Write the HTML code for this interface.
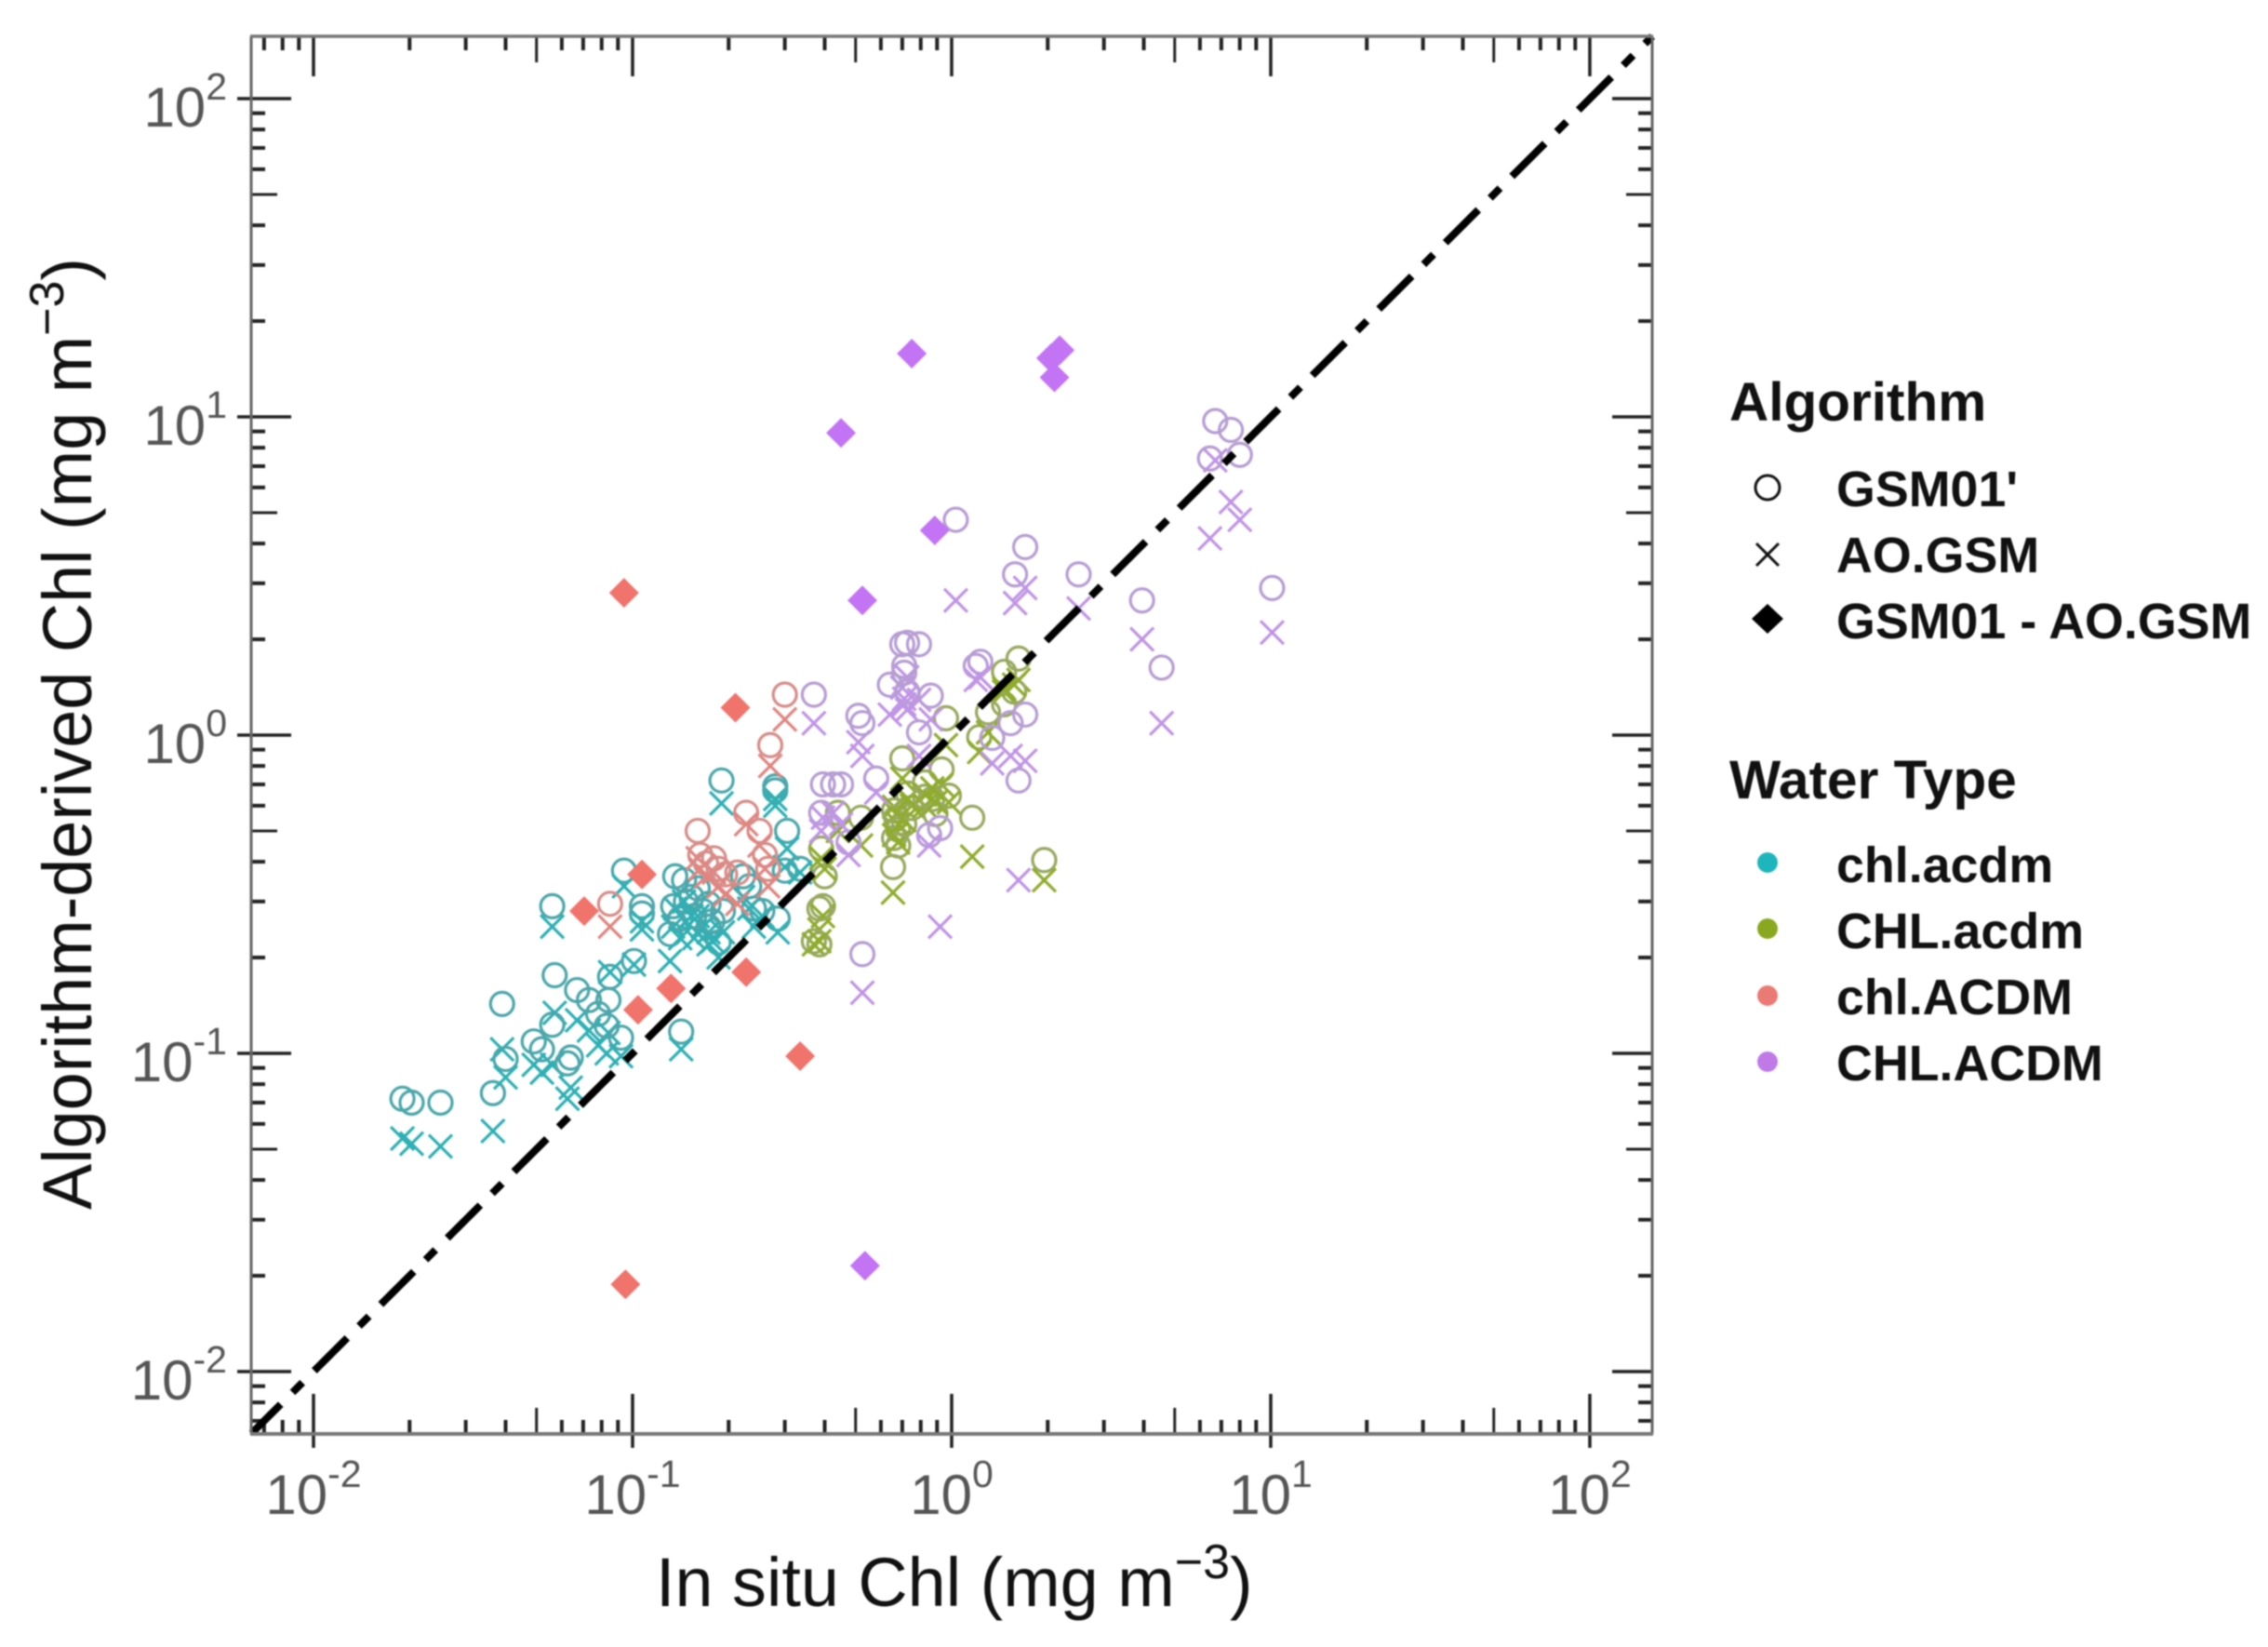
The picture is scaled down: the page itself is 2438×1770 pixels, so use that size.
<!DOCTYPE html>
<html lang="en">
<head>
<meta charset="utf-8">
<title>Algorithm-derived Chl vs In situ Chl</title>
<style>
html,body{margin:0;padding:0;background:#fff;}
body{width:2438px;height:1770px;overflow:hidden;}
svg{display:block;filter:blur(0.9px);font-family:"Liberation Sans",sans-serif;}
.tick-label{font-size:60px;fill:#555;}
.tick-exp{font-size:41px;fill:#555;}
.axis-title{font-size:73.8px;fill:#111;}
.axis-sup{font-size:52px;fill:#111;}
.legend-title{font-size:58.5px;font-weight:bold;fill:#111;}
.legend-text{font-size:53.8px;font-weight:bold;fill:#111;}
</style>
</head>
<body>
<svg id="chart" xmlns="http://www.w3.org/2000/svg" width="2438" height="1770" viewBox="0 0 2438 1770">
  <rect x="0" y="0" width="2438" height="1770" fill="#fff"/>
  <g id="ticks"></g>
  <g id="marks"></g>
  <g id="diamonds"></g>
  <line id="oneToOne" stroke="#000" stroke-width="8" stroke-dasharray="50 18 15 18" stroke-dashoffset="5.9" fill="none"/>
  <g>
    <line x1="270" y1="39" x2="270" y2="1541" stroke="#666" stroke-width="3"/>
    <line x1="1776" y1="39" x2="1776" y2="1541" stroke="#666" stroke-width="3"/>
    <line x1="269" y1="39" x2="1777" y2="39" stroke="#777" stroke-width="3.5"/>
    <line x1="269" y1="1541" x2="1777" y2="1541" stroke="#777" stroke-width="4"/>
  </g>
  <g id="tickLabels"></g>

  <text class="axis-title" x="705" y="1726">In situ Chl (mg m<tspan class="axis-sup" dy="-30">−3</tspan><tspan dy="30">)</tspan></text>
  <text class="axis-title" transform="translate(98,1300) rotate(-90)" x="0" y="0">Algorithm-derived Chl (mg m<tspan class="axis-sup" dy="-30">−3</tspan><tspan dy="30">)</tspan></text>

  <g>
    <text class="legend-title" x="1859" y="452">Algorithm</text>
    <circle cx="1900" cy="524" r="13" fill="none" stroke="#111" stroke-width="3"/>
    <path d="M1888 584L1912 608M1912 584L1888 608" stroke="#111" stroke-width="3" fill="none"/>
    <path d="M1900 649L1917 665L1900 681L1883 665Z" fill="#000"/>
    <text class="legend-text" x="1974" y="544">GSM01'</text>
    <text class="legend-text" x="1974" y="615">AO.GSM</text>
    <text class="legend-text" x="1974" y="686">GSM01 - AO.GSM</text>
  </g>
  <g>
    <text class="legend-title" x="1859" y="858">Water Type</text>
    <circle cx="1900" cy="927" r="11" fill="#1fb5bd"/>
    <circle cx="1900" cy="998" r="11" fill="#8aa81f"/>
    <circle cx="1900" cy="1070" r="11" fill="#ea7b74"/>
    <circle cx="1900" cy="1141" r="11" fill="#c07ae8"/>
    <text class="legend-text" x="1974" y="948">chl.acdm</text>
    <text class="legend-text" x="1974" y="1019">CHL.acdm</text>
    <text class="legend-text" x="1974" y="1090">chl.ACDM</text>
    <text class="legend-text" x="1974" y="1161">CHL.ACDM</text>
  </g>
</svg>
<script>
// Tick labels
const tickExponents = ["-2", "-1", "0", "1", "2"];
// Axis limits (mg m-3)
const axisLimits = [0.0064, 157];

// chl.acdm
const tealInSitu = [0.019,0.0203,0.025,0.0365,0.039,0.04,0.057,0.056,0.049,0.052,0.064,0.0625,0.067,0.073,0.078,0.084,0.083,0.092,0.085,0.101,0.142,0.19,0.28,0.28,0.305,0.3,0.335,0.094,0.056,0.107,0.107,0.136,0.131,0.134,0.147,0.156,0.141,0.166,0.173,0.186,0.222,0.232,0.24,0.255,0.285,0.153,0.173,0.192,0.145,0.16,0.178];
const tealGsm = [0.072,0.07,0.07,0.075,0.143,0.096,0.176,0.123,0.109,0.103,0.097,0.093,0.158,0.147,0.133,0.147,0.122,0.112,0.174,0.195,0.117,0.72,0.69,0.67,0.5,0.375,0.38,0.375,0.29,0.29,0.275,0.36,0.237,0.29,0.3,0.27,0.265,0.28,0.25,0.223,0.36,0.335,0.285,0.28,0.265,0.31,0.295,0.28,0.35,0.33,0.26];
const tealAo = [0.054,0.052,0.051,0.057,0.103,0.084,0.134,0.092,0.092,0.087,0.078,0.072,0.127,0.118,0.106,0.116,0.1,0.098,0.18,0.19,0.103,0.61,0.63,0.6,0.44,0.385,0.37,0.335,0.25,0.26,0.245,0.285,0.195,0.25,0.26,0.23,0.23,0.25,0.22,0.2,0.31,0.285,0.25,0.27,0.24,0.27,0.24,0.24,0.3,0.27,0.225];

// chl.ACDM
const redInSitu = [0.085,0.16,0.163,0.17,0.18,0.186,0.195,0.213,0.25,0.26,0.227,0.266,0.27,0.3];
const redGsm = [0.295,0.5,0.42,0.395,0.41,0.38,0.365,0.37,0.5,0.42,0.57,0.38,0.93,1.34];
const redAo = [0.25,0.41,0.38,0.36,0.37,0.335,0.315,0.295,0.45,0.38,0.525,0.335,0.8,1.12];

// CHL.acdm
const greenInSitu = [0.395,0.385,0.37,0.385,0.44,0.52,0.39,0.4,0.655,0.66,0.67,0.68,0.66,0.68,0.71,0.75,0.73,0.7,0.825,0.93,0.98,0.825,0.87,0.89,1.16,1.95,1.62,1.46,1.57,1.46,1.22,1.3,0.96];
const greenGsm = [0.29,0.285,0.225,0.22,0.57,0.55,0.44,0.36,0.385,0.58,0.55,0.505,0.475,0.45,0.525,0.59,0.655,0.845,0.71,0.78,0.645,0.64,0.63,0.565,0.55,0.405,1.74,1.58,1.37,1.25,0.985,1.18,1.13];
const greenAo = [0.27,0.245,0.22,0.225,0.5,0.45,0.41,0.38,0.32,0.595,0.565,0.525,0.485,0.46,0.54,0.6,0.63,0.73,0.65,0.7,0.615,0.6,0.68,0.615,0.415,0.35,1.49,1.37,1.44,1.4,0.885,1.02,0.93];

// CHL.ACDM
const purpleInSitu = [6.7,7.5,8,6.45,1.03,1.7,1.58,2.5,3.95,4.55,10.1,0.7,0.725,0.79,0.64,0.71,0.71,0.725,0.37,0.51,0.525,0.86,0.79,1.23,1.19,1.7,1.53,1.62,0.395,0.425,0.45,0.39,0.475,0.58,0.85,0.92,0.525,1.34];
const purpleGsm = [9.7,9.1,7.6,7.4,4.75,3.9,3.2,3.2,2.65,1.63,2.9,1.93,1.95,1.93,1.44,1.65,1.57,1.37,1.34,1.15,1.09,1.33,1.02,1.7,1.65,1.16,1.09,0.72,0.7,0.7,0.7,0.57,0.46,0.73,0.485,0.51,0.205,0.98];
const purpleAo = [7.3,5.4,4.75,4.15,2.65,2.9,2.6,2.5,2,1.09,2.1,1.41,1.52,1.29,1.16,1.3,1.25,1.2,1.09,0.95,0.86,1.12,0.86,1.52,1.49,0.83,0.86,0.35,0.55,0.57,0.525,0.5,0.42,0.66,0.45,0.25,0.155,0.815];

// GSM01 - AO.GSM difference points
const redDiamondInSitu = [0.094,0.21,0.0705,0.132,0.227,0.104,0.335,0.095,0.107];
const redDiamondChl = [2.8,1.22,0.28,0.16,0.18,0.137,0.098,0.0188,0.365];
const purpleDiamondInSitu = [0.75,2.05,2.18,2.1,0.45,0.885,0.525,0.535];
const purpleDiamondChl = [15.8,15.3,16.2,13.3,8.9,4.4,2.65,0.0215];

const SVGNS = "http://www.w3.org/2000/svg";
function xScale(v){ return 337 + 343 * (Math.log10(v) + 2); }
function yScale(v){ return 1474 - 342 * (Math.log10(v) + 2); }
function make(tag, parent, attrs){
  const el = document.createElementNS(SVGNS, tag);
  for (const k in attrs) el.setAttribute(k, attrs[k]);
  parent.appendChild(el);
  return el;
}

const ticksG = document.getElementById("ticks");
const labelsG = document.getElementById("tickLabels");
const PL = 270, PR = 1776, PT = 39, PB = 1541;
const tickColor = "#222";

function tickLen(m){ return m === 1 ? 43 : (m === 5 ? 28 : 15); }
function tickW(m){ return m === 1 ? 3.5 : (m === 5 ? 3 : 4); }

for (let d = -3; d <= 2; d++) {
  for (let m = 1; m <= 9; m++) {
    const v = m * Math.pow(10, d);
    if (v < axisLimits[0] || v > axisLimits[1]) continue;
    const x = xScale(v), y = yScale(v), len = tickLen(m), w = tickW(m), out = m === 1 ? 15 : 0;

    const bottom = make("line", ticksG, {x1:x, x2:x, y1:PB + out, y2:PB - len, stroke:tickColor, "stroke-width":w});
    
    
    const top = make("line", ticksG, {x1:x, x2:x, y1:PT, y2:PT + len, stroke:tickColor, "stroke-width":w});
    
    
    const left = make("line", ticksG, {x1:PL - out, x2:PL + len, y1:y, y2:y, stroke:tickColor, "stroke-width":w});
    
    
    const right = make("line", ticksG, {x1:PR, x2:PR - len, y1:y, y2:y, stroke:tickColor, "stroke-width":w});
    
    
  }
}

tickExponents.forEach(function(exp){
  const v = Math.pow(10, Number(exp));
  const xt = make("text", labelsG, {x:xScale(v), y:1627, "text-anchor":"middle", class:"tick-label"});
  
  
  xt.appendChild(document.createTextNode("10"));
  const xs = make("tspan", xt, {class:"tick-exp", dy:-29});
  xs.textContent = exp;

  const yt = make("text", labelsG, {x:244, y:yScale(v) + 30, "text-anchor":"end", class:"tick-label"});
  
  
  yt.appendChild(document.createTextNode("10"));
  const ys = make("tspan", yt, {class:"tick-exp", dy:-29});
  ys.textContent = exp;
});

const marksG = document.getElementById("marks");
function drawSeries(name, inSitu, gsm, ao, circleColor, crossColor){
  const group = make("g", marksG, {});
  
  
  inSitu.forEach(function(v, i){
    const cx = xScale(v);
    const cy = yScale(gsm[i]);
    const c = make("circle", group, {cx:cx, cy:cy, r:12.5, fill:"none", stroke:circleColor, "stroke-width":3.2});
    
    
    const px = cx, py = yScale(ao[i]), h = 12.5;
    const p = make("path", group, {d:"M"+(px-h)+" "+(py-h)+"L"+(px+h)+" "+(py+h)+"M"+(px+h)+" "+(py-h)+"L"+(px-h)+" "+(py+h), fill:"none", stroke:crossColor, "stroke-width":3.2});
    
    
  });
}
drawSeries("chl-acdm-lower", tealInSitu, tealGsm, tealAo, "#4ba7ab", "#2eb0b4");
drawSeries("chl-acdm-mixed", redInSitu, redGsm, redAo, "#d78d88", "#e08580");
drawSeries("chl-acdm-upper", greenInSitu, greenGsm, greenAo, "#98a95e", "#8fac2c");
drawSeries("chl-acdm-all-upper", purpleInSitu, purpleGsm, purpleAo, "#b79dd4", "#c094e6");

const diamondsG = document.getElementById("diamonds");
function drawDiamonds(name, xs, ys, color){
  xs.forEach(function(v, i){
    const x = xScale(v), y = yScale(ys[i]), h = 16;
    const d = make("path", diamondsG, {d:"M"+x+" "+(y-h)+"L"+(x+h)+" "+y+"L"+x+" "+(y+h)+"L"+(x-h)+" "+y+"Z", fill:color});
    
    
  });
}
drawDiamonds("chl-acdm-mixed", redDiamondInSitu, redDiamondChl, "#f0736c");
drawDiamonds("chl-acdm-all-upper", purpleDiamondInSitu, purpleDiamondChl, "#c274f5");

const ref = document.getElementById("oneToOne");
ref.setAttribute("x1", xScale(axisLimits[0]));
ref.setAttribute("y1", yScale(axisLimits[0]));
ref.setAttribute("x2", xScale(axisLimits[1]));
ref.setAttribute("y2", yScale(axisLimits[1]));
</script>
</body>
</html>
